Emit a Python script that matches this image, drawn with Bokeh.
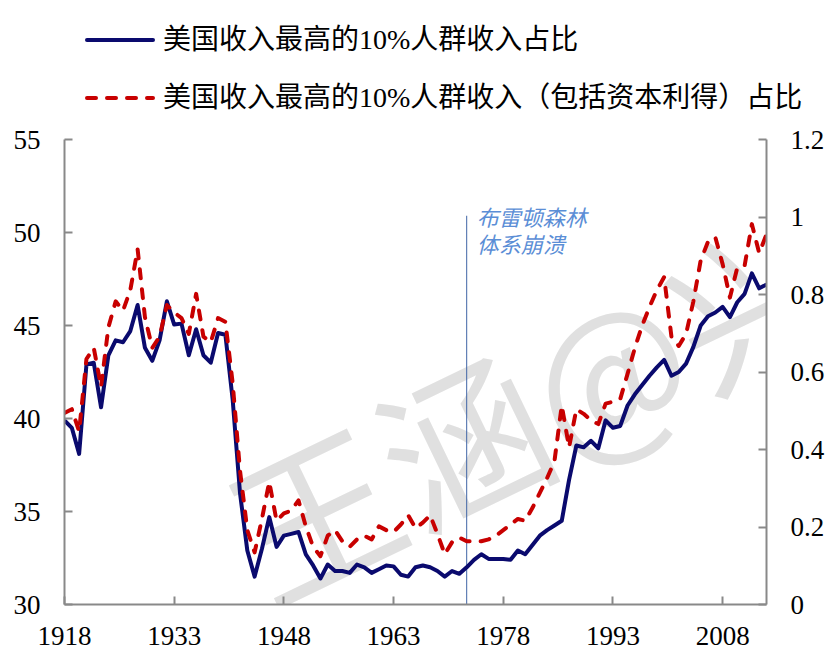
from bokeh.plotting import figure
from bokeh.layouts import column
from bokeh.models import (Range1d, LinearAxis, FixedTicker, Label, Div,
                          CustomJSTickFormatter)
from bokeh.embed import file_html
from bokeh.resources import INLINE

# ---------------- data ----------------
years = list(range(1918, 2015))

top10_share = [
    39.9, 39.5, 38.1, 42.9, 43.0, 40.6, 43.4, 44.2, 44.1, 44.7,   # 1918-1927
    46.1, 43.8, 43.1, 44.2, 46.3, 45.05, 45.1, 43.4, 44.8, 43.4,  # 1928-1937
    43.0, 44.6, 44.5, 41.0, 36.0, 32.9, 31.5, 33.0, 34.7, 33.1,   # 1938-1947
    33.7, 33.8, 33.9, 32.7, 32.1, 31.4, 32.15, 31.8, 31.8, 31.7,  # 1948-1957
    32.15, 32.0, 31.7, 31.9, 32.1, 32.05, 31.6, 31.5, 32.0, 32.1, # 1958-1967
    32.0, 31.8, 31.5, 31.8, 31.65, 32.0, 32.4, 32.7, 32.45, 32.45,# 1968-1977
    32.45, 32.4, 32.9, 32.7, 33.2, 33.7, 34.0, 34.25, 34.5, 36.7, # 1978-1987
    38.55, 38.45, 38.8, 38.4, 39.9, 39.5, 39.6, 40.7, 41.3, 41.8, # 1988-1997
    42.3, 42.75, 43.15, 42.3, 42.5, 42.95, 43.85, 45.0, 45.5, 45.7,# 1998-2007
    46.0, 45.45, 46.25, 46.7, 47.8, 47.0, 47.2,                    # 2008-2014
]

top10_share_cg = [
    40.3, 40.5, 39.3, 43.2, 43.8, 41.7, 44.9, 46.3, 45.8, 46.9,   # 1918-1927
    49.1, 45.45, 43.8, 44.4, 46.1, 45.7, 45.4, 44.55, 46.7, 44.4, # 1928-1937
    44.1, 45.4, 45.2, 41.9, 37.2, 34.0, 32.8, 34.6, 36.6, 34.5,   # 1938-1947
    34.9, 35.05, 35.6, 34.2, 33.1, 32.6, 33.7, 34.0, 33.4, 33.1,  # 1948-1957
    33.5, 33.7, 33.5, 34.2, 34.0, 33.9, 34.3, 34.8, 34.1, 34.4,   # 1958-1967
    34.8, 33.8, 32.7, 33.35, 33.6, 33.4, 33.4, 33.4, 33.5, 33.7,  # 1968-1977
    34.0, 34.3, 34.6, 34.5, 35.2, 36.0, 36.8, 37.7, 40.7, 38.45,  # 1978-1987
    40.5, 40.25, 39.9, 39.7, 40.8, 40.9, 41.05, 42.4, 43.8, 45.0, # 1988-1997
    46.0, 46.9, 47.6, 44.4, 43.9, 44.55, 46.3, 48.5, 49.5, 49.75, # 1998-2007
    48.3, 46.5, 48.1, 48.2, 50.45, 48.9, 49.9,                     # 2008-2014
]

series_names = ["美国收入最高的10%人群收入占比",
                "美国收入最高的10%人群收入（包括资本利得）占比"]
x_ticks = [1918, 1933, 1948, 1963, 1978, 1993, 2008]
left_ticks = [30, 35, 40, 45, 50, 55]
right_ticks = [0, 0.2, 0.4, 0.6, 0.8, 1, 1.2]
left_range = (30, 55)
right_range = (0, 1.2)
event_year = 1973
event_top = 50.9
event_lines = ["布雷顿森林", "体系崩溃"]
watermark_text = "王涵@兴"

# ---------------- layout / styles ----------------
W, H = 827, 665
LEG_H = 120
BLUE = "#0A0A6E"
RED = "#C80000"
RED_DASH = "9 11"
AXIS = "#898989"
NUM_FONT = "Liberation Serif"
CJK_FONT = "Noto Sans CJK SC"

# ---- legend strip (top, HTML so that the long label is not clipped) ----
def legend_row(top, name, color, dash):
    dash_attr = f' stroke-dasharray="{dash}"' if dash else ""
    return (f'<div style="position:absolute;left:85px;top:{top}px;height:30px;'
            f'display:flex;align-items:center;white-space:nowrap;">'
            f'<svg width="70" height="30" style="display:block">'
            f'<line x1="2" y1="15" x2="68" y2="15" stroke="{color}" '
            f'stroke-width="4" stroke-linecap="round"{dash_attr}/></svg>'
            f'<span style="margin-left:8px;line-height:30px">{name}</span></div>')

legend_html = (
    f'<div style="position:relative;width:{W}px;height:{LEG_H}px;'
    f"font-family:'{NUM_FONT}','{CJK_FONT}';font-size:28px;color:#000;\">"
    + legend_row(25, series_names[0], BLUE, None)
    + legend_row(83, series_names[1], RED, RED_DASH)
    + '</div>'
)
legend_div = Div(text=legend_html, width=W, height=LEG_H, margin=0)

# ---- main chart ----
p = figure(width=W, height=H - LEG_H, output_backend="svg", toolbar_location=None,
           x_range=Range1d(years[0], years[-1]),
           y_range=Range1d(*left_range),
           min_border_left=64, min_border_right=59,
           min_border_top=19, min_border_bottom=61,
           background_fill_color="white", border_fill_color="white")
p.outline_line_color = None
p.xgrid.visible = False
p.ygrid.visible = False
p.extra_y_ranges = {"right": Range1d(*right_range)}

# watermark
p.add_layout(Label(x=1941.7, y=33.28, text=watermark_text, angle=0.45,
                   text_font=CJK_FONT, text_font_size="165px",
                   text_color="#e0e0e0", text_align="left",
                   text_baseline="middle", level="underlay"))

# event marker
p.segment(x0=[event_year], y0=[left_range[0]], x1=[event_year], y1=[event_top],
          line_color="#3F64A6", line_width=1)
for i, t in enumerate(event_lines):
    p.add_layout(Label(x=event_year, y=left_range[1], x_offset=10,
                       y_offset=-76 - 27 * i,
                       text=t, text_font=CJK_FONT, text_font_size="22px",
                       text_font_style="italic", text_color="#5B8ED6",
                       text_baseline="middle"))

p.line(years, top10_share, line_color=BLUE, line_width=4, line_join="round")
p.line(years, top10_share_cg, line_color=RED, line_width=4, line_dash=RED_DASH,
       line_cap="round", line_join="round")

def style_axis(ax, standoff):
    ax.axis_line_color = AXIS
    ax.axis_line_width = 2
    ax.major_tick_line_color = AXIS
    ax.major_tick_line_width = 2
    ax.major_tick_in = 8
    ax.major_tick_out = 0
    ax.minor_tick_line_color = None
    ax.major_label_text_font = NUM_FONT
    ax.major_label_text_font_size = "27px"
    ax.major_label_text_color = "black"
    ax.major_label_standoff = standoff

p.xaxis.ticker = FixedTicker(ticks=x_ticks)
style_axis(p.xaxis[0], 22)
p.yaxis.ticker = FixedTicker(ticks=left_ticks)
style_axis(p.yaxis[0], 24)

raxis = LinearAxis(y_range_name="right", ticker=FixedTicker(ticks=right_ticks),
                   formatter=CustomJSTickFormatter(code="return tick.toString()"))
style_axis(raxis, 24)
p.add_layout(raxis, "right")

layout = column(legend_div, p, spacing=0)
open("out.html", "w").write(file_html(layout, INLINE))
